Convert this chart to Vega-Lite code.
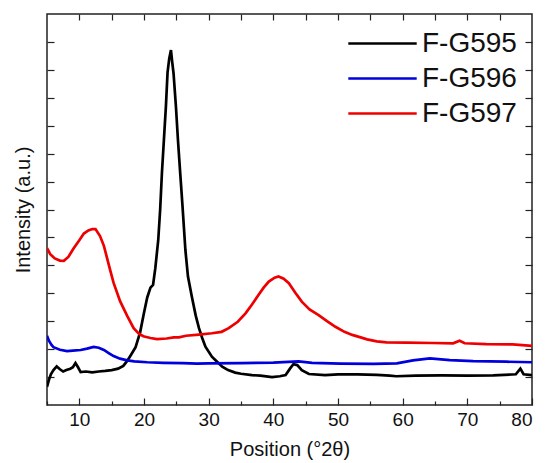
{
  "$schema": "https://vega.github.io/schema/vega-lite/v6.json",
  "autosize": "none",
  "width": 485,
  "height": 391,
  "padding": {"left": 47, "top": 14, "right": 16, "bottom": 58},
  "background": "white",
  "data": {
    "values": [
      {"sample": "F-G595", "pos": 5.0, "intensity": 0.65},
      {"sample": "F-G595", "pos": 5.3, "intensity": 0.9},
      {"sample": "F-G595", "pos": 5.6, "intensity": 1.1},
      {"sample": "F-G595", "pos": 6.0, "intensity": 1.25},
      {"sample": "F-G595", "pos": 6.5, "intensity": 1.38},
      {"sample": "F-G595", "pos": 7.0, "intensity": 1.28},
      {"sample": "F-G595", "pos": 7.5, "intensity": 1.2},
      {"sample": "F-G595", "pos": 8.0, "intensity": 1.25},
      {"sample": "F-G595", "pos": 8.6, "intensity": 1.3},
      {"sample": "F-G595", "pos": 9.0, "intensity": 1.35},
      {"sample": "F-G595", "pos": 9.4, "intensity": 1.5},
      {"sample": "F-G595", "pos": 9.8, "intensity": 1.35},
      {"sample": "F-G595", "pos": 10.2, "intensity": 1.18},
      {"sample": "F-G595", "pos": 11.0, "intensity": 1.2},
      {"sample": "F-G595", "pos": 12.0, "intensity": 1.17},
      {"sample": "F-G595", "pos": 13.0, "intensity": 1.2},
      {"sample": "F-G595", "pos": 14.0, "intensity": 1.22},
      {"sample": "F-G595", "pos": 15.0, "intensity": 1.25},
      {"sample": "F-G595", "pos": 16.0, "intensity": 1.3},
      {"sample": "F-G595", "pos": 16.8, "intensity": 1.4},
      {"sample": "F-G595", "pos": 17.4, "intensity": 1.58},
      {"sample": "F-G595", "pos": 18.0, "intensity": 1.8},
      {"sample": "F-G595", "pos": 18.7, "intensity": 2.07},
      {"sample": "F-G595", "pos": 19.4, "intensity": 2.6},
      {"sample": "F-G595", "pos": 20.0, "intensity": 3.3},
      {"sample": "F-G595", "pos": 20.5, "intensity": 3.85},
      {"sample": "F-G595", "pos": 21.0, "intensity": 4.2},
      {"sample": "F-G595", "pos": 21.4, "intensity": 4.3},
      {"sample": "F-G595", "pos": 21.75, "intensity": 4.9},
      {"sample": "F-G595", "pos": 22.2, "intensity": 5.9},
      {"sample": "F-G595", "pos": 22.5, "intensity": 7.0},
      {"sample": "F-G595", "pos": 22.77, "intensity": 8.3},
      {"sample": "F-G595", "pos": 23.08, "intensity": 9.5},
      {"sample": "F-G595", "pos": 23.39, "intensity": 10.7},
      {"sample": "F-G595", "pos": 23.64, "intensity": 11.9},
      {"sample": "F-G595", "pos": 23.9, "intensity": 12.4},
      {"sample": "F-G595", "pos": 24.17, "intensity": 12.71},
      {"sample": "F-G595", "pos": 24.35, "intensity": 12.3},
      {"sample": "F-G595", "pos": 24.57, "intensity": 11.87},
      {"sample": "F-G595", "pos": 24.94, "intensity": 10.68},
      {"sample": "F-G595", "pos": 25.25, "intensity": 9.49},
      {"sample": "F-G595", "pos": 25.6, "intensity": 8.3},
      {"sample": "F-G595", "pos": 25.96, "intensity": 7.1},
      {"sample": "F-G595", "pos": 26.4, "intensity": 5.55},
      {"sample": "F-G595", "pos": 26.8, "intensity": 4.6},
      {"sample": "F-G595", "pos": 27.4, "intensity": 3.88},
      {"sample": "F-G595", "pos": 28.0, "intensity": 3.2},
      {"sample": "F-G595", "pos": 28.5, "intensity": 2.75},
      {"sample": "F-G595", "pos": 29.0, "intensity": 2.4},
      {"sample": "F-G595", "pos": 29.5, "intensity": 2.09},
      {"sample": "F-G595", "pos": 30.5, "intensity": 1.73},
      {"sample": "F-G595", "pos": 31.3, "intensity": 1.55},
      {"sample": "F-G595", "pos": 32.1, "intensity": 1.37},
      {"sample": "F-G595", "pos": 33.0, "intensity": 1.25},
      {"sample": "F-G595", "pos": 34.1, "intensity": 1.16},
      {"sample": "F-G595", "pos": 35.0, "intensity": 1.12},
      {"sample": "F-G595", "pos": 36.7, "intensity": 1.07},
      {"sample": "F-G595", "pos": 38.0, "intensity": 1.05},
      {"sample": "F-G595", "pos": 39.8, "intensity": 1.0},
      {"sample": "F-G595", "pos": 41.0, "intensity": 1.03},
      {"sample": "F-G595", "pos": 41.9, "intensity": 1.07},
      {"sample": "F-G595", "pos": 42.6, "intensity": 1.31},
      {"sample": "F-G595", "pos": 43.1, "intensity": 1.46},
      {"sample": "F-G595", "pos": 43.7, "intensity": 1.43},
      {"sample": "F-G595", "pos": 44.4, "intensity": 1.25},
      {"sample": "F-G595", "pos": 45.5, "intensity": 1.11},
      {"sample": "F-G595", "pos": 48.0, "intensity": 1.07},
      {"sample": "F-G595", "pos": 50.0, "intensity": 1.1},
      {"sample": "F-G595", "pos": 53.0, "intensity": 1.1},
      {"sample": "F-G595", "pos": 56.0, "intensity": 1.08},
      {"sample": "F-G595", "pos": 58.0, "intensity": 1.05},
      {"sample": "F-G595", "pos": 59.0, "intensity": 1.03},
      {"sample": "F-G595", "pos": 62.0, "intensity": 1.05},
      {"sample": "F-G595", "pos": 66.0, "intensity": 1.06},
      {"sample": "F-G595", "pos": 70.0, "intensity": 1.05},
      {"sample": "F-G595", "pos": 74.0, "intensity": 1.06},
      {"sample": "F-G595", "pos": 77.5, "intensity": 1.1},
      {"sample": "F-G595", "pos": 78.2, "intensity": 1.3},
      {"sample": "F-G595", "pos": 78.7, "intensity": 1.1},
      {"sample": "F-G595", "pos": 80.0, "intensity": 1.07},
      {"sample": "F-G596", "pos": 5.0, "intensity": 2.48},
      {"sample": "F-G596", "pos": 5.3, "intensity": 2.3},
      {"sample": "F-G596", "pos": 5.7, "intensity": 2.15},
      {"sample": "F-G596", "pos": 6.0, "intensity": 2.07},
      {"sample": "F-G596", "pos": 7.0, "intensity": 1.98},
      {"sample": "F-G596", "pos": 8.1, "intensity": 1.93},
      {"sample": "F-G596", "pos": 9.0, "intensity": 1.95},
      {"sample": "F-G596", "pos": 10.2, "intensity": 1.97},
      {"sample": "F-G596", "pos": 11.2, "intensity": 2.02},
      {"sample": "F-G596", "pos": 12.2, "intensity": 2.08},
      {"sample": "F-G596", "pos": 13.0, "intensity": 2.05},
      {"sample": "F-G596", "pos": 13.8, "intensity": 1.97},
      {"sample": "F-G596", "pos": 14.6, "intensity": 1.85},
      {"sample": "F-G596", "pos": 15.3, "intensity": 1.75},
      {"sample": "F-G596", "pos": 16.3, "intensity": 1.66},
      {"sample": "F-G596", "pos": 17.4, "intensity": 1.6},
      {"sample": "F-G596", "pos": 18.5, "intensity": 1.56},
      {"sample": "F-G596", "pos": 20.5, "intensity": 1.53},
      {"sample": "F-G596", "pos": 23.0, "intensity": 1.51},
      {"sample": "F-G596", "pos": 26.0, "intensity": 1.5},
      {"sample": "F-G596", "pos": 28.2, "intensity": 1.48},
      {"sample": "F-G596", "pos": 30.0, "intensity": 1.49},
      {"sample": "F-G596", "pos": 35.0, "intensity": 1.5},
      {"sample": "F-G596", "pos": 40.0, "intensity": 1.52},
      {"sample": "F-G596", "pos": 43.9, "intensity": 1.56},
      {"sample": "F-G596", "pos": 46.0, "intensity": 1.51},
      {"sample": "F-G596", "pos": 50.4, "intensity": 1.48},
      {"sample": "F-G596", "pos": 55.5, "intensity": 1.47},
      {"sample": "F-G596", "pos": 59.1, "intensity": 1.49},
      {"sample": "F-G596", "pos": 61.6, "intensity": 1.6},
      {"sample": "F-G596", "pos": 64.2, "intensity": 1.67},
      {"sample": "F-G596", "pos": 67.3, "intensity": 1.61},
      {"sample": "F-G596", "pos": 70.9, "intensity": 1.57},
      {"sample": "F-G596", "pos": 76.0, "intensity": 1.55},
      {"sample": "F-G596", "pos": 80.0, "intensity": 1.53},
      {"sample": "F-G597", "pos": 5.0, "intensity": 5.62},
      {"sample": "F-G597", "pos": 5.5, "intensity": 5.4},
      {"sample": "F-G597", "pos": 6.2, "intensity": 5.25},
      {"sample": "F-G597", "pos": 7.0, "intensity": 5.17},
      {"sample": "F-G597", "pos": 7.6, "intensity": 5.16},
      {"sample": "F-G597", "pos": 8.3, "intensity": 5.3},
      {"sample": "F-G597", "pos": 9.1, "intensity": 5.6},
      {"sample": "F-G597", "pos": 10.0, "intensity": 5.9},
      {"sample": "F-G597", "pos": 10.7, "intensity": 6.14},
      {"sample": "F-G597", "pos": 11.4, "intensity": 6.25},
      {"sample": "F-G597", "pos": 12.0, "intensity": 6.3},
      {"sample": "F-G597", "pos": 12.5, "intensity": 6.3},
      {"sample": "F-G597", "pos": 13.2, "intensity": 6.05},
      {"sample": "F-G597", "pos": 13.8, "intensity": 5.7},
      {"sample": "F-G597", "pos": 14.3, "intensity": 5.25},
      {"sample": "F-G597", "pos": 14.8, "intensity": 4.8},
      {"sample": "F-G597", "pos": 15.3, "intensity": 4.37},
      {"sample": "F-G597", "pos": 16.3, "intensity": 3.72},
      {"sample": "F-G597", "pos": 17.4, "intensity": 3.19},
      {"sample": "F-G597", "pos": 18.4, "intensity": 2.75},
      {"sample": "F-G597", "pos": 19.2, "intensity": 2.55},
      {"sample": "F-G597", "pos": 19.9, "intensity": 2.46},
      {"sample": "F-G597", "pos": 21.0, "intensity": 2.4},
      {"sample": "F-G597", "pos": 22.0, "intensity": 2.36},
      {"sample": "F-G597", "pos": 23.5, "intensity": 2.38},
      {"sample": "F-G597", "pos": 24.6, "intensity": 2.42},
      {"sample": "F-G597", "pos": 25.4, "intensity": 2.42},
      {"sample": "F-G597", "pos": 26.5, "intensity": 2.48},
      {"sample": "F-G597", "pos": 28.5, "intensity": 2.52},
      {"sample": "F-G597", "pos": 30.5, "intensity": 2.57},
      {"sample": "F-G597", "pos": 32.0, "intensity": 2.62},
      {"sample": "F-G597", "pos": 33.1, "intensity": 2.75},
      {"sample": "F-G597", "pos": 34.5, "intensity": 2.98},
      {"sample": "F-G597", "pos": 35.7, "intensity": 3.28},
      {"sample": "F-G597", "pos": 36.7, "intensity": 3.6},
      {"sample": "F-G597", "pos": 37.7, "intensity": 3.94},
      {"sample": "F-G597", "pos": 38.5, "intensity": 4.2},
      {"sample": "F-G597", "pos": 39.3, "intensity": 4.42},
      {"sample": "F-G597", "pos": 40.2, "intensity": 4.56},
      {"sample": "F-G597", "pos": 40.8, "intensity": 4.6},
      {"sample": "F-G597", "pos": 41.6, "intensity": 4.52},
      {"sample": "F-G597", "pos": 42.4, "intensity": 4.36},
      {"sample": "F-G597", "pos": 43.4, "intensity": 4.02},
      {"sample": "F-G597", "pos": 44.4, "intensity": 3.7},
      {"sample": "F-G597", "pos": 45.6, "intensity": 3.42},
      {"sample": "F-G597", "pos": 47.0, "intensity": 3.22},
      {"sample": "F-G597", "pos": 48.3, "intensity": 3.0},
      {"sample": "F-G597", "pos": 49.6, "intensity": 2.8},
      {"sample": "F-G597", "pos": 51.0, "intensity": 2.62},
      {"sample": "F-G597", "pos": 52.2, "intensity": 2.51},
      {"sample": "F-G597", "pos": 53.5, "intensity": 2.42},
      {"sample": "F-G597", "pos": 54.5, "intensity": 2.35},
      {"sample": "F-G597", "pos": 56.0, "intensity": 2.28},
      {"sample": "F-G597", "pos": 57.5, "intensity": 2.24},
      {"sample": "F-G597", "pos": 60.6, "intensity": 2.23},
      {"sample": "F-G597", "pos": 64.7, "intensity": 2.22},
      {"sample": "F-G597", "pos": 67.8, "intensity": 2.21},
      {"sample": "F-G597", "pos": 68.8, "intensity": 2.3},
      {"sample": "F-G597", "pos": 69.6, "intensity": 2.21},
      {"sample": "F-G597", "pos": 72.9, "intensity": 2.18},
      {"sample": "F-G597", "pos": 77.0, "intensity": 2.17},
      {"sample": "F-G597", "pos": 80.0, "intensity": 2.12}
    ]
  },
  "layer": [
    {
      "mark": {"type": "line", "strokeWidth": 2.7, "clip": true},
      "encoding": {
        "x": {
          "field": "pos",
          "type": "quantitative",
          "scale": {"domain": [5, 80], "nice": false, "zero": false},
          "axis": {
            "title": "Position (°2θ)",
            "orient": "bottom",
            "values": [5, 10, 15, 20, 25, 30, 35, 40, 45, 50, 55, 60, 65, 70, 75, 80],
            "labelExpr": "datum.value % 10 === 0 ? datum.label : ''",
            "tickSize": {"condition": {"test": "datum.value % 10 === 0", "value": -7}, "value": -4},
            "labelPadding": 12,
            "titlePadding": 10
          }
        },
        "y": {
          "field": "intensity",
          "type": "quantitative",
          "scale": {"domain": [0, 14], "nice": false},
          "axis": {
            "title": "Intensity (a.u.)",
            "orient": "left",
            "values": [1, 2, 3, 4, 5, 6, 7, 8, 9, 10, 11, 12, 13],
            "labels": false,
            "tickSize": -7,
            "titlePadding": 13
          }
        },
        "color": {
          "field": "sample",
          "type": "nominal",
          "scale": {
            "domain": ["F-G595", "F-G596", "F-G597"],
            "range": ["#000000", "#0000dd", "#ee0000"]
          },
          "legend": {
            "orient": "none",
            "legendX": 315,
            "legendY": 9,
            "title": null,
            "symbolType": "M-1.8,0H1.8",
            "symbolSize": 1444,
            "symbolStrokeWidth": 2.5,
            "labelFontSize": 28,
            "labelOffset": 19,
            "rowPadding": 0,
            "padding": 0
          }
        }
      }
    },
    {
      "mark": {"type": "line", "strokeOpacity": 0},
      "encoding": {
        "x": {
          "field": "pos",
          "type": "quantitative",
          "axis": {
            "title": null,
            "orient": "top",
            "values": [10, 15, 20, 25, 30, 35, 40, 45, 50, 55, 60, 65, 70, 75],
            "labels": false,
            "tickSize": -6
          }
        },
        "y": {
          "field": "intensity",
          "type": "quantitative",
          "axis": {
            "title": null,
            "orient": "right",
            "values": [1, 2, 3, 4, 5, 6, 7, 8, 9, 10, 11, 12, 13],
            "labels": false,
            "tickSize": -7
          }
        },
        "detail": {"field": "sample"}
      }
    }
  ],
  "resolve": {"axis": {"x": "independent", "y": "independent"}},
  "config": {
    "font": "Liberation Sans",
    "view": {"stroke": "#222222", "strokeWidth": 1.5},
    "axis": {
      "domain": false,
      "grid": false,
      "tickColor": "#222222",
      "tickWidth": 1.2,
      "labelFont": "Liberation Sans",
      "labelFontSize": 19,
      "labelColor": "#111111",
      "titleFont": "Liberation Sans",
      "titleFontSize": 20,
      "titleFontWeight": "normal",
      "titleColor": "#111111"
    },
    "legend": {
      "labelFont": "Liberation Sans",
      "labelColor": "#111111"
    }
  }
}
